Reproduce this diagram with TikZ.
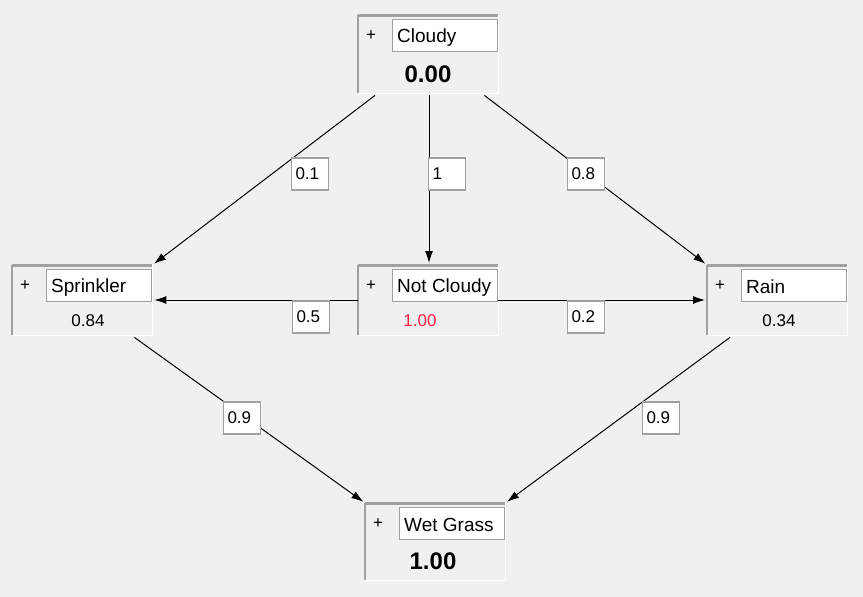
\documentclass[tikz,border=0pt]{standalone}
\usepackage{fontspec}
\setmainfont{Liberation Sans}
\usetikzlibrary{positioning,arrows.meta}

\definecolor{winbg}{HTML}{F0F0F0}
\definecolor{framegray}{HTML}{A0A0A0}
\definecolor{probred}{HTML}{FF1E46}

\tikzset{
  netbox/.style={minimum width=140pt, inner sep=0pt, anchor=north west, fill=winbg},
  namebox/.style={draw=framegray, line width=1.3pt, fill=white, minimum width=105pt,
    minimum height=32pt, inner sep=0pt, anchor=north west},
  nametext/.style={anchor=west, inner sep=0pt, yshift=-1.5pt, font=\fontsize{19}{22}\selectfont},
  plusmark/.style={inner sep=0pt, font=\fontsize{17}{20}\selectfont},
  bigval/.style={inner sep=0pt, xshift=70pt, yshift=19pt, font=\fontsize{24}{28}\selectfont\bfseries},
  smallval/.style={inner sep=0pt, xshift=74pt, yshift=15pt, font=\fontsize{17}{20}\selectfont},
  weight/.style={draw=framegray, line width=1.3pt, fill=white, text width=29pt, align=left,
    inner xsep=4pt, minimum height=32pt, font=\fontsize{17}{20}\selectfont},
  link/.style={->, >={Latex[length=12pt,width=8pt]}, line width=1pt, shorten >=2pt}
}

% name, x, y, height, label, value, value style
\newcommand{\netnode}[7]{%
  \node[netbox, minimum height=#4pt] (#1) at (#2,#3) {};
  \draw[white, line width=1.5pt] (#1.north east) -- (#1.south east) -- (#1.south west);
  \draw[framegray, line width=1.5pt] (#1.south west) -- (#1.north west);
  \draw[framegray, line width=3pt] (#1.north west) -- (#1.north east);
  \node[namebox] (#1-name) at ([xshift=34pt,yshift=-4pt]#1.north west) {};
  \node[nametext] at ([xshift=5pt]#1-name.west) {#5};
  \node[plusmark] at ([xshift=13pt,yshift=-21pt]#1.north west) {+};
  \node[#7] (#1-val) at (#1.south west) {#6};
}

\begin{document}
\begin{tikzpicture}[x=1pt, y=-1pt]

  \fill[winbg] (0,0) rectangle (863,597);
  \useasboundingbox (0,0) rectangle (863,597);

  % nodes of the net
  \netnode{cloudy}{358}{15}{78}{Cloudy}{0.00}{bigval}
  \netnode{sprinkler}{12}{265}{70}{Sprinkler}{0.84}{smallval, xshift=2pt}
  \netnode{notcloudy}{358}{265}{70}{Not Cloudy}{1.00}{smallval, xshift=-12pt, text=probred}
  \netnode{rain}{707}{265}{70}{Rain}{0.34}{smallval, xshift=-2pt}
  \netnode{wetgrass}{365}{503}{77}{Wet Grass}{1.00}{bigval, xshift=-2pt}

  % links
  \draw[link] ([xshift=17pt,yshift=-2pt]cloudy.south west) -- (sprinkler.north east);
  \draw[link] ([xshift=71pt,yshift=-2pt]cloudy.south west) -- ([xshift=71pt]notcloudy.north west);
  \draw[link] ([xshift=-14pt,yshift=-2pt]cloudy.south east) -- (rain.north west);
  \draw[link] ([yshift=-35pt]notcloudy.north west) -- ([yshift=-35pt]sprinkler.north east);
  \draw[link] ([yshift=-35pt]notcloudy.north east) -- ([yshift=-35pt]rain.north west);
  \draw[link] ([xshift=-18pt,yshift=-2pt]sprinkler.south east) -- (wetgrass.north west);
  \draw[link] ([xshift=23pt,yshift=-2pt]rain.south west) -- (wetgrass.north east);

  % weights
  \node[weight] (w-cs) at (310,174) {0.1};
  \node[weight] (w-cn) at (447,174) {1};
  \node[weight] (w-cr) at (586,174) {0.8};
  \node[weight] (w-ns) at (311,317) {0.5};
  \node[weight] (w-nr) at (586,317) {0.2};
  \node[weight] (w-sw) at (242,418) {0.9};
  \node[weight] (w-rw) at (661,418) {0.9};

\end{tikzpicture}
\end{document}
